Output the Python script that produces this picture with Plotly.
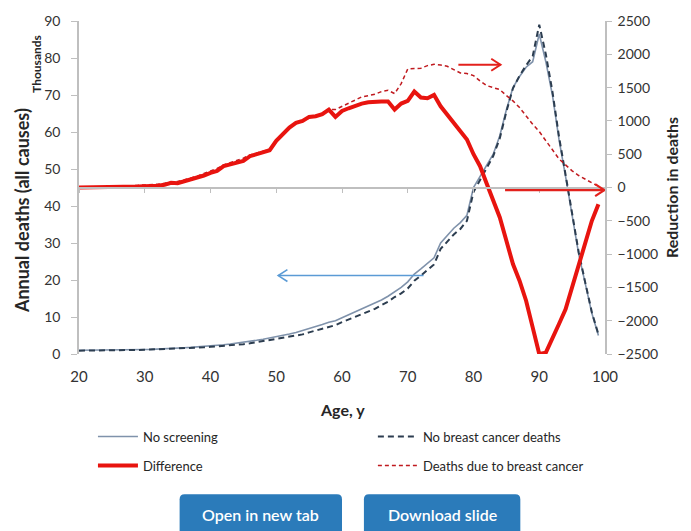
import plotly.graph_objects as go

# ---------------- data ----------------
ages = list(range(20, 100))

no_screening = [1.0, 1.0, 1.0, 1.0, 1.0, 1.0, 1.05, 1.1, 1.1, 1.15,
                1.2, 1.25, 1.3, 1.4, 1.5, 1.6, 1.7, 1.8, 1.9, 2.0,
                2.2, 2.35, 2.5, 2.7, 2.9, 3.1, 3.4, 3.7, 4.0, 4.3,
                4.7, 5.0, 5.4, 5.8, 6.3, 6.9, 7.4, 8.0, 8.6, 9.0,
                9.8, 10.6, 11.3, 12.0, 12.9, 13.6, 14.6, 15.6, 16.8, 18.0,
                19.5, 21.6, 23.0, 24.5, 26.0, 30.0, 32.0, 34.0, 35.5, 37.5,
                45.0, 48.0, 51.0, 54.0, 59.0, 66.0, 72.0, 75.0, 77.5, 79.0,
                86.5, 79.0, 70.0, 58.0, 48.0, 38.0, 27.0, 19.0, 11.0, 5.0]

no_bc_deaths = [0.9, 0.9, 0.9, 0.9, 0.9, 0.95, 1.0, 1.0, 1.05, 1.1,
                1.15, 1.2, 1.25, 1.35, 1.4, 1.5, 1.6, 1.65, 1.75, 1.8,
                1.95, 2.05, 2.15, 2.35, 2.5, 2.65, 2.9, 3.2, 3.5, 3.75,
                4.0, 4.2, 4.5, 4.85, 5.3, 5.85, 6.3, 6.9, 7.4, 7.8,
                8.6, 9.3, 10.0, 10.6, 11.5, 12.2, 13.2, 14.1, 15.4, 16.4,
                17.7, 19.8, 21.2, 22.7, 24.2, 28.4, 30.5, 32.3, 33.8, 36.0,
                43.8, 47.0, 50.2, 53.5, 58.3, 65.5, 71.8, 75.2, 78.0, 80.5,
                89.0, 81.0, 71.0, 58.8, 48.5, 38.5, 27.5, 19.3, 11.3, 5.3]

difference = [0, 0, 0, 0, 0, 0, 5, 5, 10, 15,
              20, 20, 25, 40, 70, 65, 90, 120, 140, 180,
              220, 250, 320, 350, 380, 400, 470, 500, 520, 560,
              700, 800, 900, 970, 1000, 1060, 1070, 1100, 1170, 1060,
              1150, 1190, 1230, 1260, 1280, 1290, 1290, 1290, 1170, 1260,
              1300, 1440, 1350, 1340, 1390, 1220, 1090, 960, 850, 720,
              500, 320, 60, -200, -450, -800, -1150, -1400, -1700, -2100,
              -2500, -2480, -2250, -2050, -1830, -1500, -1150, -800, -500, -250]

bc_deaths = [0, 0, 5, 5, 10, 10, 15, 20, 25, 30,
             40, 45, 50, 65, 85, 90, 115, 145, 170, 210,
             245, 285, 340, 370, 400, 440, 490, 520, 540, 570,
             700, 800, 900, 960, 1000, 1050, 1080, 1110, 1170, 1170,
             1220, 1270, 1320, 1360, 1380, 1400, 1440, 1460, 1410, 1560,
             1780, 1790, 1790, 1830, 1850, 1840, 1820, 1770, 1720, 1710,
             1680, 1600, 1530, 1500, 1470, 1380, 1300, 1200, 1070, 950,
             840, 700, 560, 430, 340, 250, 180, 120, 70, 20]

x_ticks = [20, 30, 40, 50, 60, 70, 80, 90, 100]
left_ticks = [0, 10, 20, 30, 40, 50, 60, 70, 80, 90]
right_ticks = [-2500, -2000, -1500, -1000, -500, 0, 500, 1000, 1500, 2000, 2500]

series_names = ["No screening", "No breast cancer deaths", "Difference", "Deaths due to breast cancer"]

# ---------------- figure ----------------
FONT = "Lato"
AXIS = "#bfbfbf"
TXT = "#262626"

fig = go.Figure()
fig.add_trace(go.Scatter(x=ages, y=no_screening, name=series_names[0], mode="lines",
                         line=dict(color="#7f92ab", width=1.6), yaxis="y",
                         legend="legend", legendgroup="a"))
fig.add_trace(go.Scatter(x=ages, y=no_bc_deaths, name=series_names[1], mode="lines",
                         line=dict(color="#2c3d50", width=2, dash="6px,4px"), yaxis="y",
                         legend="legend2", legendgroup="b"))
fig.add_trace(go.Scatter(x=ages, y=bc_deaths, name=series_names[3], mode="lines",
                         line=dict(color="#c01a1f", width=1.5, dash="4px,3px"), yaxis="y2",
                         legend="legend2", legendgroup="d"))
fig.add_trace(go.Scatter(x=ages, y=difference, name=series_names[2], mode="lines",
                         line=dict(color="#e8140f", width=4), yaxis="y2",
                         legend="legend", legendgroup="c"))
# helper trace so the mid axis (x2) exists
fig.add_trace(go.Scatter(x=[x_ticks[0], x_ticks[-1]], y=[None, None], xaxis="x2", yaxis="y2",
                         showlegend=False, hoverinfo="skip", mode="lines"))

L, R, T, B = 79, 84, 19, 177
W, H = 691, 531
pw, ph = W - L - R, H - T - B


def px(xp):
    return (xp - L) / pw


def py(yp):
    return (H - B - yp) / ph


leg_common = dict(xanchor="left", yanchor="top", orientation="v",
                  font=dict(size=13, color=TXT), bgcolor="rgba(0,0,0,0)",
                  tracegroupgap=9, itemwidth=40, traceorder="grouped")

fig.update_layout(
    width=W, height=H,
    margin=dict(l=L, r=R, t=T, b=B),
    paper_bgcolor="white", plot_bgcolor="white",
    font=dict(family=FONT, color=TXT),
    showlegend=True,
    xaxis=dict(range=[x_ticks[0], x_ticks[-1]], tickvals=x_ticks, showgrid=False, zeroline=False,
               showline=False, ticks="", ticklabelstandoff=12,
               tickfont=dict(size=15, color="#333333")),
    xaxis2=dict(range=[x_ticks[0], x_ticks[-1]], tickvals=x_ticks, overlaying="x", anchor="free",
                position=0.5, side="bottom", showgrid=False, zeroline=False, showline=True,
                linecolor=AXIS, linewidth=1.5, ticks="outside", ticklen=5, tickcolor=AXIS,
                showticklabels=False),
    yaxis=dict(range=[left_ticks[0], left_ticks[-1]], tickvals=left_ticks, showgrid=False,
               zeroline=False, showline=True, linecolor=AXIS, linewidth=1.5, ticks="outside",
               ticklen=6, tickcolor=AXIS, ticklabelstandoff=8,
               tickfont=dict(size=14, color="#333333")),
    yaxis2=dict(range=[right_ticks[0], right_ticks[-1]], tickvals=right_ticks, overlaying="y",
                side="right", showgrid=False, zeroline=False, showline=True, linecolor=AXIS,
                linewidth=1.5, ticks="outside", ticklen=5, tickcolor=AXIS, ticklabelstandoff=3,
                tickfont=dict(size=14, color="#333333"),
                title=dict(text="<b>Reduction in deaths</b>", font=dict(size=16, color=TXT),
                           standoff=10)),
    legend=dict(x=px(93), y=py(422), **leg_common),
    legend2=dict(x=px(374), y=py(422), **leg_common),
)

# axis titles and button labels
ann = [
    dict(text="<b>Annual deaths (all causes)</b>", x=px(22), y=py(210), textangle=-90,
         font=dict(size=18, color=TXT)),
    dict(text="<b>Thousands</b>", x=px(37), y=py(62), textangle=-90, font=dict(size=12, color=TXT)),
    dict(text="<b>Age, y</b>", x=px(343), y=py(410), font=dict(size=16, color=TXT)),
    dict(text="Open in new tab", x=px(261.5), y=py(515),
         font=dict(size=16, color="white", weight=600)),
    dict(text="Download slide", x=px(443.5), y=py(515),
         font=dict(size=16, color="white", weight=600)),
]
for a in ann:
    a.update(xref="paper", yref="paper", showarrow=False, xanchor="center", yanchor="middle",
             borderpad=0)
    fig.add_annotation(**a)


# buttons (rounded rectangles)
def rounded(x0, y0, x1, y1, r=5):
    X0, X1 = px(x0), px(x1)
    Y0, Y1 = py(y0), py(y1)
    rx, ry = r / pw, r / ph
    return (f"M{X0+rx},{Y0} L{X1-rx},{Y0} Q{X1},{Y0} {X1},{Y0-ry} L{X1},{Y1} "
            f"L{X0},{Y1} L{X0},{Y0-ry} Q{X0},{Y0} {X0+rx},{Y0} Z")


for bx0, bx1 in [(180, 343), (365, 522)]:
    fig.add_shape(type="path", path=rounded(bx0, 495, bx1, 540), xref="paper", yref="paper",
                  fillcolor="#2b7bba", line=dict(width=0), layer="below")


# arrows (line + open chevron head)
def arrow(x0, x1, y, yref, color, width, dx, dy):
    fig.add_shape(type="line", x0=x0, x1=x1, y0=y, y1=y, xref="x", yref=yref,
                  line=dict(color=color, width=width), layer="above")
    s = 1 if x1 > x0 else -1
    fig.add_shape(type="path", xref="x", yref=yref,
                  path=f"M{x1 - s*dx},{y+dy} L{x1},{y} L{x1 - s*dx},{y-dy}",
                  line=dict(color=color, width=width), layer="above")


arrow(72.4, 50.3, 21.2, "y", "#5b9bd5", 1.6, 1.4, 1.6)
arrow(77.7, 84.1, 1843, "y2", "#e3211c", 2, 1.4, 90)
arrow(84.8, 99.9, -40, "y2", "#e3211c", 2.2, 1.4, 90)

fig.write_html("out.html", config={"displayModeBar": False},
               post_script="document.body.style.margin='0px';document.body.style.overflow='hidden';")
